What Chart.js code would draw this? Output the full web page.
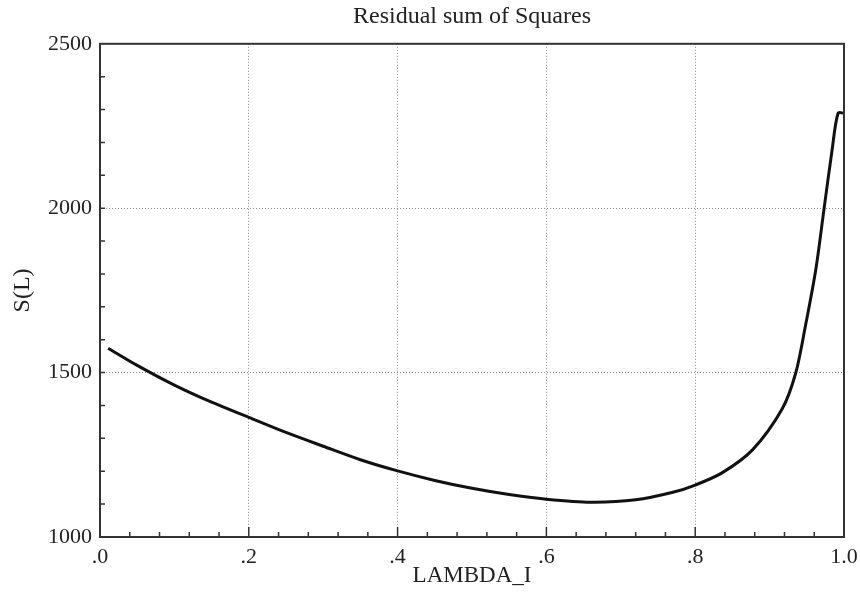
<!DOCTYPE html>
<html>
<head>
<meta charset="utf-8">
<script src="https://cdn.jsdelivr.net/npm/chart.js@4"></script>
<style>
  html, body { margin: 0; padding: 0; background: #fff; }
  #wrap { width: 860px; height: 595px; }
</style>
</head>
<body>
<div id="wrap"><canvas id="chart" width="860" height="595"></canvas></div>
<script>
// values
const lambdaVals = [0.011, 0.05, 0.1, 0.15, 0.2, 0.25, 0.3, 0.35, 0.4, 0.45, 0.5, 0.55, 0.6, 0.66, 0.72, 0.77, 0.8, 0.836, 0.877, 0.917, 0.935, 0.948, 0.962, 0.973, 0.984, 0.992, 1.0];
const rssVals = [1574, 1522, 1462, 1410, 1364, 1318, 1276, 1235, 1201, 1172, 1148, 1129, 1115, 1106, 1113, 1136, 1158, 1195, 1265, 1390, 1498, 1640, 1812, 1995, 2177, 2289, 2289];
const xTicks = [0, 0.2, 0.4, 0.6, 0.8, 1.0];
const xTickLabels = ['.0', '.2', '.4', '.6', '.8', '1.0'];
const yTicks = [1000, 1500, 2000, 2500];

const serif = "'Liberation Serif', 'DejaVu Serif', serif";
const axisCol = '#333';

// frame + inward tick marks
const frameTicks = {
  id: 'frameTicks',
  afterDraw(chart) {
    const ctx = chart.ctx, a = chart.chartArea;
    const xs = chart.scales.x, ys = chart.scales.y;
    ctx.save();
    ctx.strokeStyle = axisCol;
    ctx.lineWidth = 2;
    ctx.strokeRect(a.left, a.top, a.right - a.left, a.bottom - a.top);
    ctx.lineWidth = 1.5;
    ctx.beginPath();
    for (let i = 1; i < 25; i++) {
      const v = i * 0.04;
      const px = xs.getPixelForValue(v);
      const len = (i % 5 === 0) ? 10 : 5;
      ctx.moveTo(px, a.bottom);
      ctx.lineTo(px, a.bottom - len);
    }
    for (let v = 1100; v < 2500; v += 100) {
      const py = ys.getPixelForValue(v);
      ctx.moveTo(a.left, py);
      ctx.lineTo(a.left + 5, py);
    }
    ctx.stroke();
    ctx.restore();
  }
};

const ctx = document.getElementById('chart').getContext('2d');
new Chart(ctx, {
  type: 'line',
  data: {
    datasets: [{
      label: 'S(L)',
      data: lambdaVals.map((x, i) => ({x: x, y: rssVals[i]})),
      borderColor: '#111',
      borderWidth: 3,
      pointRadius: 0,
      tension: 0.3,
      fill: false
    }]
  },
  options: {
    responsive: false,
    animation: false,
    layout: { padding: { left: 0, right: 0, top: 0, bottom: 0 } },
    plugins: {
      legend: { display: false },
      tooltip: { enabled: false },
      title: {
        display: true,
        fullSize: false,
        text: 'Residual sum of Squares',
        color: '#222',
        font: { family: serif, size: 24, weight: 'normal' },
        padding: { top: 2, bottom: 13 }
      }
    },
    scales: {
      x: {
        type: 'linear',
        min: 0, max: 1,
        afterBuildTicks: s => { s.ticks = xTicks.map(v => ({value: v})); },
        afterFit: s => { s.height = 58; s.paddingRight = 16; },
        ticks: {
          color: '#222',
          font: { family: serif, size: 22 },
          padding: 7,
          maxRotation: 0,
          callback: (v, i) => xTickLabels[i]
        },
        grid: {
          drawTicks: false,
          color: c => (c.tick && (c.tick.value === 0 || c.tick.value === 1)) ? 'rgba(0,0,0,0)' : '#888',
          lineWidth: 1
        },
        border: { display: false, dash: [1, 2] },
        title: {
          display: true,
          text: 'LAMBDA_I',
          color: '#222',
          font: { family: serif, size: 23 },
          padding: { top: 0, bottom: 5 }
        }
      },
      y: {
        type: 'linear',
        min: 1000, max: 2500,
        afterBuildTicks: s => { s.ticks = yTicks.map(v => ({value: v})); },
        afterFit: s => { s.width = 100; },
        ticks: {
          color: '#222',
          font: { family: serif, size: 22 },
          padding: 8,
          callback: v => String(v)
        },
        grid: {
          drawTicks: false,
          color: c => (c.tick && (c.tick.value === 1000 || c.tick.value === 2500)) ? 'rgba(0,0,0,0)' : '#888',
          lineWidth: 1
        },
        border: { display: false, dash: [1, 2] },
        title: {
          display: true,
          text: 'S(L)',
          color: '#222',
          font: { family: serif, size: 24 },
          padding: { top: 8, bottom: 0 }
        }
      }
    }
  },
  plugins: [frameTicks]
});
</script>
</body>
</html>
